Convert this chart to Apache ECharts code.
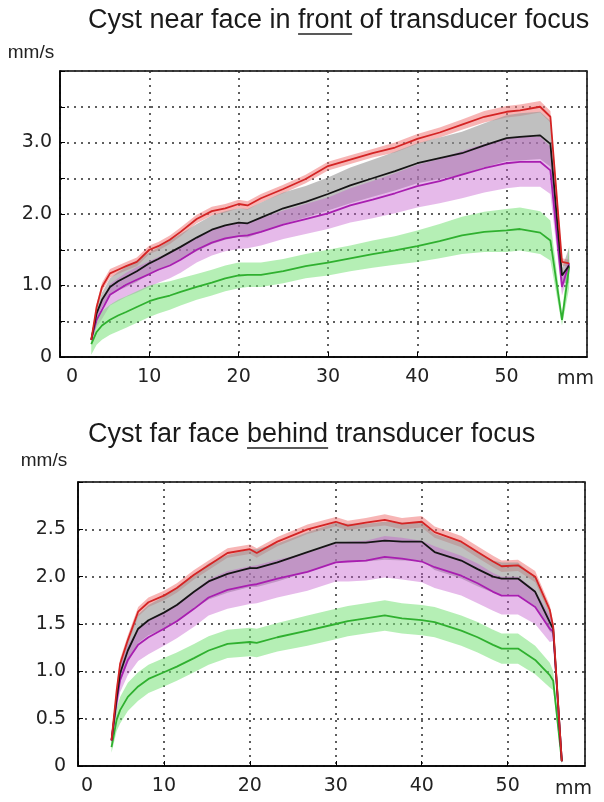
<!DOCTYPE html>
<html>
<head>
<meta charset="utf-8">
<script src="https://cdn.jsdelivr.net/npm/echarts@6/dist/echarts.min.js"></script>
<style>
  html, body { margin: 0; padding: 0; background: #fff; }
  #chart { width: 604px; height: 802px; }
</style>
</head>
<body>
<div id="chart"></div>
<script>
// near face (top panel)
const nearX = [3.5, 4.1, 4.7, 5.6, 6.5, 7.4, 8.6, 10, 11, 12.3, 13.5, 15.3, 17, 18.5, 20, 21, 22.5, 25, 27.5, 30,
  32.5, 35, 37.5, 40, 42.5, 45, 47.5, 50, 51.5, 53.75, 54.9, 56.2, 57];
const nearRed = [0.24, 0.70, 0.98, 1.17, 1.22, 1.27, 1.33, 1.50, 1.55, 1.64, 1.75, 1.93, 2.04, 2.08, 2.14, 2.12, 2.22, 2.35, 2.49, 2.67,
  2.76, 2.85, 2.93, 3.05, 3.14, 3.25, 3.36, 3.43, 3.45, 3.50, 3.36, 1.33, 1.31];
const nearBlack = [0.24, 0.61, 0.80, 0.98, 1.06, 1.12, 1.20, 1.31, 1.37, 1.46, 1.54, 1.67, 1.78, 1.84, 1.88, 1.87, 1.95, 2.08, 2.17, 2.28,
  2.40, 2.50, 2.60, 2.71, 2.78, 2.85, 2.96, 3.06, 3.08, 3.10, 2.98, 1.14, 1.28];
const nearPurple = [0.24, 0.52, 0.66, 0.87, 0.94, 1.01, 1.08, 1.16, 1.22, 1.28, 1.36, 1.50, 1.60, 1.66, 1.69, 1.70, 1.75, 1.85, 1.93, 2.01,
  2.12, 2.20, 2.29, 2.39, 2.46, 2.55, 2.64, 2.71, 2.73, 2.73, 2.61, 0.98, 1.31];
const nearGreen = [0.18, 0.35, 0.44, 0.52, 0.58, 0.63, 0.70, 0.78, 0.82, 0.86, 0.91, 0.98, 1.04, 1.10, 1.14, 1.15, 1.15, 1.20, 1.27, 1.32,
  1.38, 1.44, 1.49, 1.55, 1.62, 1.70, 1.75, 1.77, 1.79, 1.74, 1.63, 0.52, 1.26];
const nearRedSd = [0.03, 0.05, 0.06, 0.06, 0.06, 0.06, 0.06, 0.06, 0.06, 0.06, 0.06, 0.06, 0.06, 0.06, 0.06, 0.06, 0.06, 0.06, 0.06, 0.06,
  0.06, 0.06, 0.07, 0.07, 0.07, 0.07, 0.08, 0.08, 0.08, 0.08, 0.08, 0.05, 0.05];
const nearBlackSd = [0.03, 0.08, 0.10, 0.12, 0.13, 0.14, 0.15, 0.15, 0.16, 0.17, 0.18, 0.19, 0.20, 0.20, 0.20, 0.20, 0.21, 0.22, 0.22, 0.23,
  0.25, 0.26, 0.27, 0.28, 0.29, 0.30, 0.31, 0.32, 0.33, 0.33, 0.32, 0.10, 0.25];
const nearPurpleSd = [0.03, 0.10, 0.13, 0.15, 0.16, 0.17, 0.18, 0.18, 0.18, 0.18, 0.18, 0.18, 0.18, 0.18, 0.18, 0.18, 0.19, 0.20, 0.21, 0.22,
  0.24, 0.26, 0.28, 0.30, 0.31, 0.33, 0.34, 0.35, 0.35, 0.35, 0.33, 0.12, 0.12];
const nearGreenSd = [0.15, 0.18, 0.20, 0.21, 0.22, 0.22, 0.22, 0.22, 0.21, 0.20, 0.19, 0.18, 0.18, 0.18, 0.18, 0.17, 0.17, 0.17, 0.17, 0.18,
  0.18, 0.19, 0.20, 0.22, 0.24, 0.26, 0.28, 0.30, 0.30, 0.30, 0.28, 0.08, 0.30];

// far face (bottom panel)
const farX = [3.9, 4.5, 4.9, 5.8, 7.0, 8.2, 10, 11.5, 13.5, 15.2, 17.4, 20, 20.8, 23.2, 26.7, 30, 31.4, 33.5, 35.7, 37.7,
  40, 41.5, 44.6, 46.5, 48.3, 49.3, 51.2, 53.2, 54.9, 55.3, 56.3];
const farRed = [0.27, 0.80, 1.08, 1.33, 1.63, 1.73, 1.80, 1.88, 2.02, 2.12, 2.25, 2.29, 2.25, 2.37, 2.50, 2.58, 2.54, 2.57, 2.60, 2.56,
  2.58, 2.47, 2.37, 2.26, 2.16, 2.11, 2.12, 2.00, 1.65, 1.47, 0.05];
const farBlack = [0.27, 0.72, 0.98, 1.22, 1.45, 1.54, 1.62, 1.70, 1.84, 1.95, 2.03, 2.09, 2.09, 2.15, 2.26, 2.36, 2.36, 2.36, 2.38, 2.37,
  2.37, 2.26, 2.17, 2.08, 2.00, 1.98, 1.98, 1.84, 1.52, 1.45, 0.05];
const farPurple = [0.27, 0.68, 0.91, 1.12, 1.28, 1.36, 1.45, 1.53, 1.66, 1.78, 1.86, 1.91, 1.92, 1.98, 2.05, 2.15, 2.16, 2.17, 2.21, 2.19,
  2.16, 2.10, 2.01, 1.93, 1.84, 1.80, 1.80, 1.68, 1.45, 1.42, 0.05];
const farGreen = [0.20, 0.49, 0.59, 0.73, 0.84, 0.92, 0.99, 1.05, 1.14, 1.22, 1.29, 1.31, 1.30, 1.36, 1.43, 1.50, 1.53, 1.56, 1.59, 1.56,
  1.54, 1.52, 1.43, 1.36, 1.28, 1.24, 1.24, 1.12, 0.96, 0.90, 0.05];
const farRedSd = [0.03, 0.05, 0.05, 0.05, 0.05, 0.05, 0.05, 0.05, 0.05, 0.05, 0.05, 0.05, 0.05, 0.05, 0.05, 0.05, 0.05, 0.05, 0.06, 0.06,
  0.06, 0.06, 0.06, 0.06, 0.06, 0.06, 0.06, 0.06, 0.05, 0.04, 0.03];
const farBlackSd = [0.03, 0.08, 0.10, 0.13, 0.15, 0.16, 0.17, 0.18, 0.18, 0.19, 0.20, 0.20, 0.20, 0.20, 0.21, 0.21, 0.20, 0.20, 0.20, 0.20,
  0.20, 0.19, 0.19, 0.18, 0.17, 0.17, 0.17, 0.15, 0.10, 0.06, 0.03];
const farPurpleSd = [0.03, 0.10, 0.13, 0.16, 0.17, 0.18, 0.18, 0.18, 0.19, 0.19, 0.20, 0.20, 0.20, 0.20, 0.20, 0.20, 0.21, 0.21, 0.22, 0.22,
  0.22, 0.22, 0.21, 0.21, 0.20, 0.20, 0.20, 0.18, 0.14, 0.10, 0.03];
const farGreenSd = [0.06, 0.12, 0.14, 0.15, 0.15, 0.15, 0.15, 0.15, 0.15, 0.15, 0.15, 0.15, 0.15, 0.15, 0.16, 0.16, 0.16, 0.16, 0.16, 0.16,
  0.16, 0.16, 0.16, 0.16, 0.16, 0.16, 0.16, 0.15, 0.13, 0.10, 0.03];

const xTicks = [0, 10, 20, 30, 40, 50];
const nearTitle = ['Cyst near face in ', 'front', ' of transducer focus'];
const farTitle = ['Cyst far face ', 'behind', ' transducer focus'];

const LINE = {red: '#d42424', black: '#151515', purple: '#a81eb0', green: '#2fb02f'};
const BAND = {
  red: 'rgba(240,120,120,0.55)', black: 'rgba(150,150,150,0.6)',
  purple: 'rgba(195,90,205,0.42)', green: 'rgba(120,225,120,0.55)'
};
const labelFont = 'DejaVu Sans';
const titleFont = 'Liberation Sans';

function band(idx, xs, ys, sd, color) {
  return {
    type: 'custom', xAxisIndex: idx, yAxisIndex: idx, clip: true, silent: true, z: 2,
    data: xs.map((x, i) => [x, ys[i] - sd[i], ys[i] + sd[i]]),
    encode: {x: 0, y: [1, 2]},
    renderItem: function (params, api) {
      if (params.dataIndex !== 0) return null;
      const pts = [];
      for (let i = 0; i < xs.length; i++) pts.push(api.coord([xs[i], ys[i] + sd[i]]));
      for (let i = xs.length - 1; i >= 0; i--) pts.push(api.coord([xs[i], ys[i] - sd[i]]));
      return {type: 'polygon', shape: {points: pts}, style: {fill: color}};
    }
  };
}

function line(idx, xs, ys, color) {
  return {
    type: 'line', xAxisIndex: idx, yAxisIndex: idx, z: 3, silent: true,
    showSymbol: false, symbol: 'none',
    data: xs.map((x, i) => [x, ys[i]]),
    lineStyle: {color: color, width: 1.8}
  };
}

const dotted = {color: '#2a2a2a', type: [2, 5], width: 1.5};

function xAxisOf(idx, zeroPad) {
  return {
    type: 'value', gridIndex: idx, min: 0, max: 59, interval: 10,
    axisLine: {lineStyle: {color: '#000', width: 1.5}},
    axisTick: {inside: true, length: 5, lineStyle: {color: '#000'}},
    splitLine: {show: true, lineStyle: dotted},
    axisLabel: {
      fontFamily: labelFont, fontSize: 19, color: '#222', margin: 11, showMaxLabel: false,
      formatter: v => xTicks.indexOf(v) < 0 ? '' : (v === 0 ? '{z|0}' : String(v)),
      rich: {z: {fontFamily: labelFont, fontSize: 19, color: '#222', padding: [0, 0, 0, zeroPad]}}
    }
  };
}

function yAxisOf(idx, max, labelFn, margin, namePad, nameGap) {
  return {
    type: 'value', gridIndex: idx, min: 0, max: max, interval: 0.5,
    name: 'mm/s', nameLocation: 'end', nameGap: nameGap,
    nameTextStyle: {fontFamily: titleFont, fontSize: 19, color: '#222', padding: [0, namePad, 0, 0]},
    axisLine: {lineStyle: {color: '#000', width: 1.5}},
    axisTick: {inside: true, length: 5, lineStyle: {color: '#000'}},
    splitLine: {show: true, lineStyle: dotted},
    axisLabel: {fontFamily: labelFont, fontSize: 19, color: '#222', margin: margin, formatter: labelFn}
  };
}

const chart = echarts.init(document.getElementById('chart'), null, {renderer: 'canvas'});

// underline positions from text metrics
const ctx = document.createElement('canvas').getContext('2d');
ctx.font = '27px "' + titleFont + '"';
function underline(parts, x0, y) {
  const a = x0 + ctx.measureText(parts[0]).width;
  const b = a + ctx.measureText(parts[1]).width;
  return {type: 'line', shape: {x1: a, y1: y, x2: b, y2: y}, style: {stroke: '#222', lineWidth: 1.6}};
}
function titleText(parts, x, y) {
  return {type: 'text', x: x, y: y, style: {
    text: parts.join(''), fontFamily: titleFont, fontSize: 27, fill: '#1a1a1a',
    align: 'left', verticalAlign: 'middle'
  }};
}
function unitText(x, y) {
  return {type: 'text', x: x, y: y, style: {
    text: 'mm', fontFamily: labelFont, fontSize: 19, fill: '#222', align: 'left', verticalAlign: 'middle'
  }};
}

chart.setOption({
  animation: false,
  backgroundColor: '#fff',
  grid: [
    {left: 60, top: 71, right: 17, height: 286, show: true, borderColor: '#000', borderWidth: 1.5, backgroundColor: 'transparent'},
    {left: 78, top: 482, right: 19, height: 284, show: true, borderColor: '#000', borderWidth: 1.5, backgroundColor: 'transparent'}
  ],
  xAxis: [xAxisOf(0, 24), xAxisOf(1, 18)],
  yAxis: [
    yAxisOf(0, 4, v => v === 0 ? '0' : (Math.abs(v - Math.round(v)) < 1e-9 && v < 4 ? v.toFixed(1) : ''), 8, 58, 9),
    yAxisOf(1, 3, v => v === 0 ? '0' : (v < 3 ? v.toFixed(1) : ''), 12, 68, 12)
  ],
  graphic: [
    titleText(nearTitle, 88, 21),
    underline(nearTitle, 88, 34),
    titleText(farTitle, 88, 435),
    underline(farTitle, 88, 448),
    unitText(557, 379),
    unitText(555, 789)
  ],
  series: [
    band(0, nearX, nearRed, nearRedSd, BAND.red),
    band(0, nearX, nearBlack, nearBlackSd, BAND.black),
    band(0, nearX, nearPurple, nearPurpleSd, BAND.purple),
    band(0, nearX, nearGreen, nearGreenSd, BAND.green),
    line(0, nearX, nearGreen, LINE.green),
    line(0, nearX, nearPurple, LINE.purple),
    line(0, nearX, nearBlack, LINE.black),
    line(0, nearX, nearRed, LINE.red),
    band(1, farX, farRed, farRedSd, BAND.red),
    band(1, farX, farBlack, farBlackSd, BAND.black),
    band(1, farX, farPurple, farPurpleSd, BAND.purple),
    band(1, farX, farGreen, farGreenSd, BAND.green),
    line(1, farX, farGreen, LINE.green),
    line(1, farX, farPurple, LINE.purple),
    line(1, farX, farBlack, LINE.black),
    line(1, farX, farRed, LINE.red)
  ]
});
</script>
</body>
</html>
